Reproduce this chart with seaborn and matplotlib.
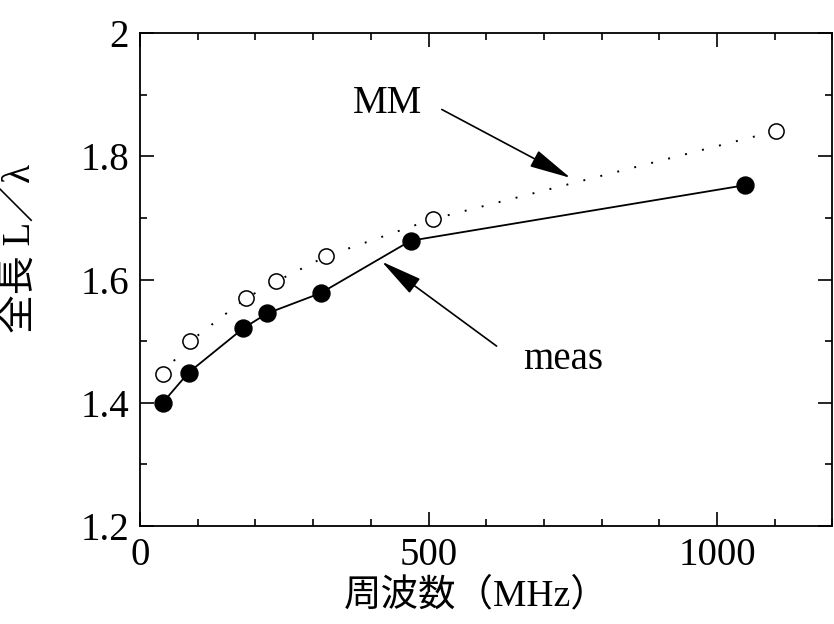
import matplotlib
matplotlib.use("Agg")
import matplotlib.pyplot as plt
import seaborn as sns
import pandas as pd
from matplotlib.ticker import MultipleLocator

# measured values (filled circles, solid line)
meas_freq = [39, 84, 179, 220, 313, 469, 1048]
meas_ratio = [1.400, 1.449, 1.521, 1.545, 1.578, 1.663, 1.753]

# MM calculation (open circles, dotted line)
mm_freq = [39, 87, 184, 236, 323, 507, 1102]
mm_ratio = [1.446, 1.500, 1.570, 1.597, 1.638, 1.698, 1.841]

x_ticks = [0, 500, 1000]
y_ticks = [1.2, 1.4, 1.6, 1.8, 2.0]
y_tick_labels = ["1.2", "1.4", "1.6", "1.8", "2"]

df_meas = pd.DataFrame({"freq": meas_freq, "ratio": meas_ratio})
df_mm = pd.DataFrame({"freq": mm_freq, "ratio": mm_ratio})

sns.set_style("ticks")
plt.rcParams["font.family"] = ["Liberation Serif", "Noto Sans CJK JP"]
for key in ["text.color", "axes.labelcolor", "xtick.color", "ytick.color", "axes.edgecolor"]:
    plt.rcParams[key] = "black"

fig = plt.figure(figsize=(8.34, 6.24), dpi=100)
ax = fig.add_axes([0.168, 0.157, 0.830, 0.790])

sns.lineplot(data=df_mm, x="freq", y="ratio", ax=ax, color="black",
             linewidth=1.4, linestyle=(0, (1, 8)), estimator=None)
sns.lineplot(data=df_meas, x="freq", y="ratio", ax=ax, color="black",
             linewidth=1.3, estimator=None)
sns.scatterplot(data=df_mm, x="freq", y="ratio", ax=ax, s=120,
                facecolor="white", edgecolor="black", linewidth=1.1, zorder=3)
sns.scatterplot(data=df_meas, x="freq", y="ratio", ax=ax, s=150,
                color="black", edgecolor="black", zorder=4)

ax.set_xlim(0, 1200)
ax.set_ylim(1.2, 2.0)
ax.set_xticks(x_ticks)
ax.set_yticks(y_ticks)
ax.set_yticklabels(y_tick_labels)
ax.xaxis.set_minor_locator(MultipleLocator(100))
ax.yaxis.set_minor_locator(MultipleLocator(0.1))
ax.tick_params(which="both", direction="in", top=True, right=True,
               labelsize=28, width=1.2)
ax.tick_params(which="major", length=10)
ax.tick_params(which="minor", length=5)
ax.tick_params(axis="x", pad=8)
ax.tick_params(axis="y", pad=8)
for sp in ax.spines.values():
    sp.set_linewidth(1.3)

ax.set_xlabel("周波数（MHz）", fontsize=27)
ax.set_ylabel("全長 L／λ", fontsize=28)
ax.xaxis.set_label_coords(0.486, -0.105)
ax.yaxis.set_label_coords(-0.146, 0.562)

arrow = dict(arrowstyle="-|>,head_length=1.3,head_width=0.28",
             color="black", lw=1.2, mutation_scale=20, shrinkA=0, shrinkB=0)
ax.annotate("", xy=(746, 1.765), xytext=(523, 1.876), arrowprops=arrow)
ax.annotate("", xy=(419, 1.629), xytext=(618, 1.492), arrowprops=arrow)
ax.text(428, 1.886, "MM", fontsize=28, ha="center", va="center")
ax.text(733, 1.47, "meas", fontsize=28, ha="center", va="center")

fig.savefig("out.png", dpi=100)
